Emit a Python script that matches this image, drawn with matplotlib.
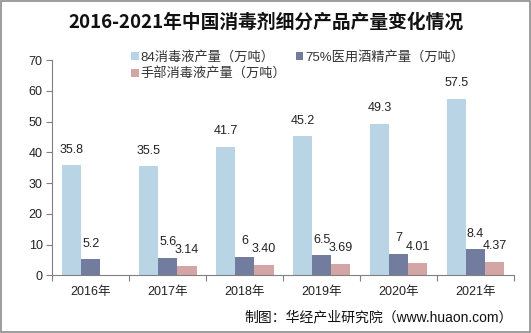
import matplotlib
matplotlib.use("Agg")
import matplotlib.pyplot as plt
from matplotlib.patches import Rectangle
import numpy as np

plt.rcParams['font.family'] = ['Liberation Sans', 'Noto Sans CJK SC']

# 年份与三类消毒产品产量（万吨）
years = ['2016年', '2017年', '2018年', '2019年', '2020年', '2021年']
liquid_84 = [35.8, 35.5, 41.7, 45.2, 49.3, 57.5]
alcohol_75 = [5.2, 5.6, 6, 6.5, 7, 8.4]
hand_sanitizer = [np.nan, 3.14, 3.40, 3.69, 4.01, 4.37]

labels_84 = ['35.8', '35.5', '41.7', '45.2', '49.3', '57.5']
labels_75 = ['5.2', '5.6', '6', '6.5', '7', '8.4']
labels_hand = ['', '3.14', '3.40', '3.69', '4.01', '4.37']

series_names = ['84消毒液产量（万吨）', '75%医用酒精产量（万吨）', '手部消毒液产量（万吨）']
colors = ['#B8D4E5', '#717C9F', '#D4A5A5']

fig = plt.figure(figsize=(5.31, 3.33), dpi=100)
ax = fig.add_axes([0.0985, 0.1733, 0.8695, 0.6457])

x = np.arange(len(years))
w = 0.25
b1 = ax.bar(x - w, liquid_84, w, color=colors[0], label=series_names[0])
b2 = ax.bar(x, alcohol_75, w, color=colors[1], label=series_names[1])
b3 = ax.bar(x + w, hand_sanitizer, w, color=colors[2], label=series_names[2])

for bars, labs in [(b1, labels_84), (b2, labels_75), (b3, labels_hand)]:
    ax.bar_label(bars, labels=labs, padding=7, fontsize=9, color='#222222')

ax.set_xlim(-0.5, len(years) - 0.5)
ax.set_ylim(0, 70)
ax.set_yticks(range(0, 71, 10))
ax.set_xticks(np.arange(-0.5, len(years), 1.0))
ax.set_xticklabels([])
ax.set_xticks(x, minor=True)
ax.set_xticklabels(years, minor=True)
ax.tick_params(axis='x', which='minor', length=0, pad=8, labelsize=9, labelcolor='#222222')
ax.tick_params(axis='x', which='major', length=4, color='#808080', direction='out')
ax.tick_params(axis='y', length=4, color='#808080', labelsize=9, labelcolor='#222222', pad=3)

for s in ['top', 'right']:
    ax.spines[s].set_visible(False)
for s in ['left', 'bottom']:
    ax.spines[s].set_color('#808080')
    ax.spines[s].set_linewidth(0.8)

# 图例两行排列：第一行两项，第二行一项
fig.legend([b1, b3, b2], [series_names[0], series_names[2], series_names[1]],
           ncol=2, loc='upper left', bbox_to_anchor=(0.235, 0.866),
           frameon=False, fontsize=9.5, handlelength=0.55, handleheight=0.55,
           handletextpad=0.15, columnspacing=0.7, labelspacing=0.3,
           borderpad=0, labelcolor='#333333')

fig.text(0.5, 0.933, '2016-2021年中国消毒剂细分产品产量变化情况',
         ha='center', va='center', fontsize=13.5, fontweight='bold',
         family=['Noto Sans CJK SC'], color='#111111')

fig.text(0.965, 0.048, '制图：华经产业研究院（www.huaon.com）',
         ha='right', va='center', fontsize=10, color='#111111')

fig.patches.append(Rectangle((0.001, 0.002), 0.997, 0.995, transform=fig.transFigure,
                             fill=False, edgecolor='#8C8C8C', linewidth=1.2))

fig.savefig('out.png', dpi=100)
